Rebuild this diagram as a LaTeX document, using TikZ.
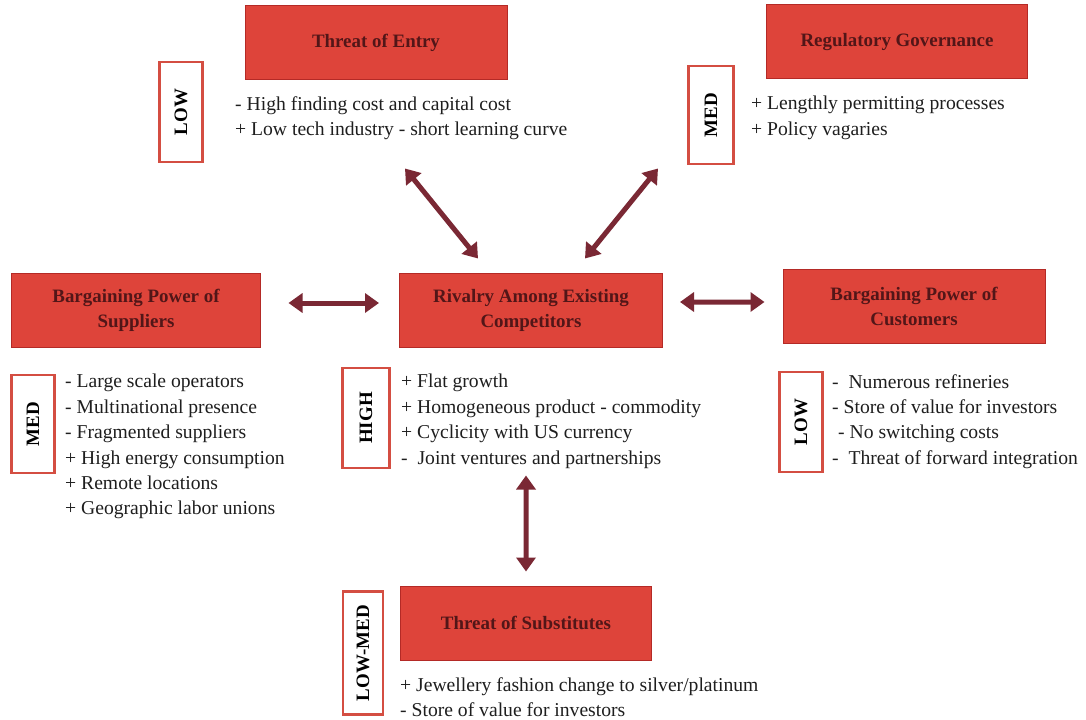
\documentclass[tikz,border=0pt]{standalone}
\usepackage{fontspec}
\setmainfont{Liberation Serif}
\usetikzlibrary{arrows.meta}
\definecolor{boxred}{RGB}{222,68,58}
\definecolor{boxedge}{RGB}{180,42,38}
\definecolor{titlebrown}{RGB}{82,22,24}
\definecolor{levelred}{RGB}{212,78,66}
\definecolor{arrowmaroon}{RGB}{122,40,52}
\definecolor{bodygray}{RGB}{30,30,30}
\tikzset{
  force/.style={draw=boxedge, fill=boxred, line width=1bp, minimum height=74bp,
    minimum width=#1, align=center, text=titlebrown,
    font=\bfseries\fontsize{19}{25}\selectfont},
  level/.style={draw=levelred, fill=white, line width=2.2bp, rotate=90,
    inner sep=0pt, minimum width=#1, minimum height=44bp,
    font=\bfseries\fontsize{19}{20}\selectfont},
  bullets/.style={anchor=north west, inner sep=0pt, align=left, text=bodygray,
    font=\fontsize{19.7}{25.5}\selectfont},
  twoway/.style={arrowmaroon, line width=5bp,
    {Triangle[width=19bp,length=14bp]}-{Triangle[width=19bp,length=14bp]}}
}
\begin{document}
\begin{tikzpicture}[x=1bp,y=-1bp]
  \useasboundingbox (0,0) rectangle (1086,720);
  % Forces
  \node[force=262bp] (entry) at (376,43) {Threat of Entry};
  \node[force=261bp] (regul) at (897,42) {Regulatory Governance};
  \node[force=248bp] (suppl) at (136,310) {Bargaining Power of\\Suppliers};
  \node[force=263bp] (rival) at (531,310) {Rivalry Among Existing\\Competitors};
  \node[force=262bp] (custo) at (914,306) {Bargaining Power of\\Customers};
  \node[force=251bp] (subst) at (526,623) {Threat of Substitutes};
  % Levels
  \node[level=100bp, minimum height=43bp] (entrylvl) at (181,112) {LOW};
  \node[level=98bp, minimum height=45bp] (regullvl) at (711,115) {MED};
  \node[level=98bp, minimum height=43bp] (suppllvl) at (33,424) {MED};
  \node[level=100bp, minimum height=47bp] (rivallvl) at (366,418) {HIGH};
  \node[level=100bp, minimum height=43bp] (custolvl) at (801,422) {LOW};
  \node[level=123bp, minimum height=40bp] (substlvl) at (363,653) {LOW-MED};
  % Factors
  \node[bullets] (entrytxt) at (235,96) {- High finding cost and capital cost\\
    + Low tech industry - short learning curve};
  \node[bullets] (regultxt) at (751,96) {+ Lengthly permitting processes\\
    + Policy vagaries};
  \node[bullets] (suppltxt) at (65,374) {- Large scale operators\\
    - Multinational presence\\- Fragmented suppliers\\
    + High energy consumption\\+ Remote locations\\
    + Geographic labor unions};
  \node[bullets] (rivaltxt) at (401,374) {+ Flat growth\\
    + Homogeneous product - commodity\\+ Cyclicity with US currency\\
    -\ \ Joint ventures and partnerships};
  \node[bullets] (custotxt) at (832,374) {-\ \ Numerous refineries\\
    - Store of value for investors\\\hspace{6bp}- No switching costs\\
    -\ \ Threat of forward integration};
  \node[bullets] (substtxt) at (400,677) {+ Jewellery fashion change to silver/platinum\\
    - Store of value for investors};
  % Arrows
  \draw[twoway, shorten <=28bp, shorten >=20bp]
    ([yshift=7bp]suppl.east) -- ([yshift=7bp]rival.west);
  \draw[twoway, shorten <=17bp, shorten >=18bp]
    ([yshift=8bp]rival.east) -- ([yshift=4bp]custo.west);
  \draw[twoway] ([xshift=29bp,yshift=-88bp]entry.south)
    -- ([xshift=-53bp,yshift=14bp]rival.north);
  \draw[twoway] ([xshift=-239bp,yshift=-89bp]regul.south)
    -- ([xshift=54bp,yshift=14bp]rival.north);
  \draw[twoway] ([xshift=-5bp,yshift=-128bp]rival.south)
    -- ([yshift=14bp]subst.north);
\end{tikzpicture}
\end{document}
